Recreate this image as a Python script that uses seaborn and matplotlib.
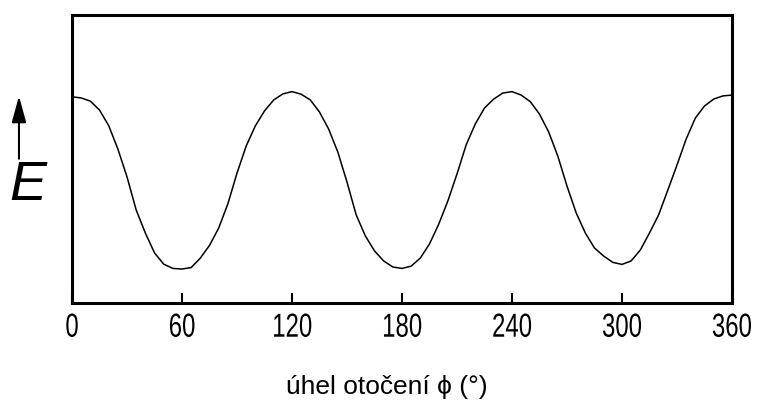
import numpy as np
import pandas as pd
import seaborn as sns
import matplotlib
matplotlib.use("Agg")
import matplotlib.pyplot as plt
from matplotlib.patheffects import AbstractPathEffect
from matplotlib.transforms import Affine2D

# uhel otoceni (stupne), krok 5 stupnu
phi = list(range(0, 365, 5))

# energie E (libovolne jednotky)
energie = [
    71.6, 71.2, 70.1, 67.0, 61.6, 53.5, 43.8, 32.3, 24.3, 17.4, 13.5, 12.0,
    11.8, 12.3, 15.6, 20.0, 26.0, 34.4, 45.1, 54.5, 61.5, 66.7, 70.5, 72.6,
    73.4, 72.5, 70.5, 66.3, 60.4, 52.4, 42.0, 30.6, 23.3, 18.1, 14.6, 12.5,
    12.0, 12.8, 15.6, 20.5, 27.3, 35.4, 44.8, 54.9, 62.2, 67.7, 70.8, 72.9,
    73.4, 72.2, 69.9, 65.6, 59.4, 51.0, 40.6, 31.3, 24.3, 19.1, 16.3, 14.1,
    13.4, 14.6, 18.4, 24.3, 30.6, 39.2, 47.9, 56.9, 64.2, 68.4, 70.8, 71.9,
    72.2,
]

xticks = [0, 60, 120, 180, 240, 300, 360]


class Squeeze(AbstractPathEffect):
    # zuzeni textu vodorovne kolem jeho stredu
    def __init__(self, sx):
        super().__init__()
        self.sx = sx

    def draw_path(self, renderer, gc, tpath, affine, rgbFace=None):
        ext = tpath.get_extents()
        cx = (ext.x0 + ext.x1) / 2
        t = Affine2D().translate(-cx, 0).scale(self.sx, 1).translate(cx, 0) + affine
        renderer.draw_path(gc, tpath, t, rgbFace)


df = pd.DataFrame({"phi": phi, "E": energie})

sns.set_theme(style="white")
plt.rcParams["font.family"] = ["Liberation Sans", "DejaVu Sans"]

fig = plt.figure(figsize=(7.62, 4.09), dpi=100)
ax = fig.add_axes([0.0945, 0.2592, 0.8661, 0.7041])

sns.lineplot(data=df, x="phi", y="E", ax=ax, color="black", linewidth=1.1)

ax.set_xlim(0, 360)
ax.set_ylim(0, 100)
ax.set_yticks([])
ax.set_xticks(xticks)
ax.set_xticklabels([str(t) for t in xticks], fontsize=24)
for lab in ax.get_xticklabels():
    lab.set_path_effects([Squeeze(0.72)])
ax.tick_params(axis="x", direction="in", length=7.2, width=1.5,
               pad=7, colors="black", bottom=True)
ax.set_ylabel("")
for s in ax.spines.values():
    s.set_linewidth(2.2)
    s.set_color("black")

ax.set_xlabel("úhel otočení ϕ (°)", fontsize=19, color="black")
ax.xaxis.set_label_coords(0.477, -0.25)

# osa E se sipkou
fig.text(0.036, 0.511, "E", fontsize=40, fontstyle="italic",
         ha="center", va="baseline", color="black")
ax.annotate("", xy=(0.0249, 0.765), xytext=(0.0249, 0.612),
            xycoords="figure fraction", textcoords="figure fraction",
            arrowprops=dict(arrowstyle="-|>,head_length=0.8,head_width=0.22",
                            mutation_scale=20, lw=1.5, color="black",
                            shrinkA=0, shrinkB=0))

plt.savefig("out.png", dpi=100)
